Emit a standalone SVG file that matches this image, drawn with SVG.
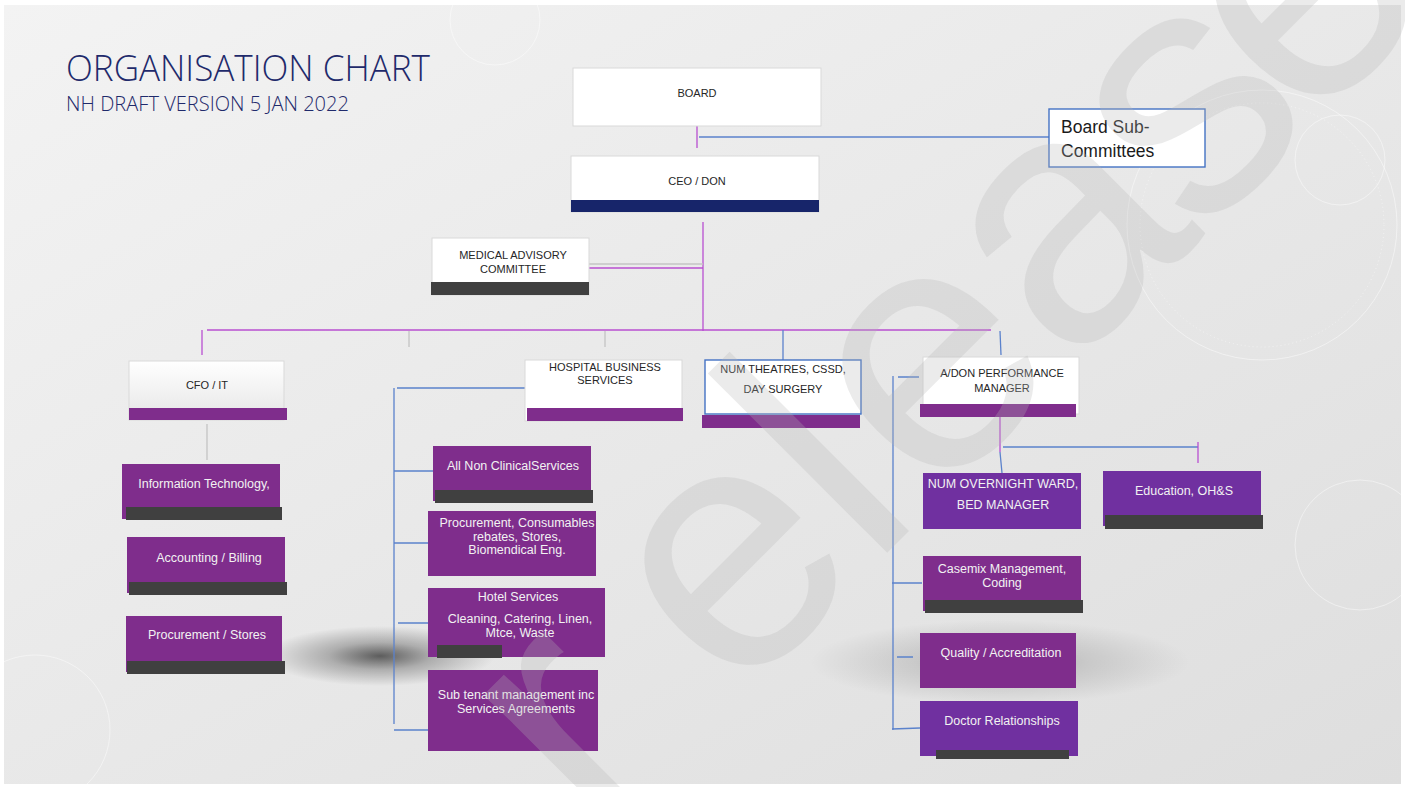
<svg xmlns="http://www.w3.org/2000/svg" width="1405" height="787" viewBox="0 0 1405 787">
<defs>
<linearGradient id="bg" x1="0" y1="0" x2="1" y2="1">
<stop offset="0" stop-color="#f3f3f3"/><stop offset="1" stop-color="#dedede"/>
</linearGradient>
<linearGradient id="cfo" x1="0" y1="0" x2="0" y2="1">
<stop offset="0" stop-color="#ffffff"/><stop offset="1" stop-color="#e6e6e6"/>
</linearGradient>
<radialGradient id="shadow">
<stop offset="0" stop-color="#000" stop-opacity="0.6"/><stop offset="0.45" stop-color="#000" stop-opacity="0.25"/><stop offset="1" stop-color="#000" stop-opacity="0"/>
</radialGradient>
<style>
.wbox{fill:#ffffff;stroke:#d9d9d9;stroke-width:1}
.bbox{fill:#ffffff;stroke:#4472c4;stroke-width:1.4}
.pbox{fill:#7f2d8c}
.vbox{fill:#7030a0}
.bar{fill:#404040}
.pbar{fill:#7f2d8c}
.t{font-family:"Liberation Sans",Arial,sans-serif;text-anchor:middle}
.dk{fill:#262626;font-size:11px}
.wt{fill:#f2f2f2;font-size:12.5px}
.cp{stroke:#b94fd1;stroke-width:1.3;fill:none}
.cb{stroke:#5b82cc;stroke-width:1.3;fill:none}
.cg{stroke:#c4c4c4;stroke-width:1.3;fill:none}
.deco{fill:none;stroke:#ffffff;stroke-opacity:0.45;stroke-width:1}
</style>
</defs>
<rect x="0" y="0" width="1405" height="787" fill="#ffffff"/>
<rect x="4" y="5" width="1397" height="779" fill="url(#bg)"/>
<g id="decoration">
<circle class="deco" cx="1262" cy="225" r="135"/>
<circle class="deco" cx="1262" cy="225" r="122" stroke-dasharray="1 3"/>
<circle class="deco" cx="1340" cy="160" r="45"/>
<circle class="deco" cx="1360" cy="545" r="65"/>
<circle class="deco" cx="495" cy="20" r="45"/>
<circle class="deco" cx="35" cy="730" r="75"/>
<ellipse cx="380" cy="656" rx="115" ry="30" fill="url(#shadow)"/>
<ellipse cx="1000" cy="662" rx="190" ry="42" fill="url(#shadow)" opacity="0.45"/>
</g>
<g id="title">
<text x="66" y="81" font-family="Open Sans, Lato, Liberation Sans, sans-serif" font-weight="300" font-size="36" fill="#1f2a6b" textLength="364" lengthAdjust="spacingAndGlyphs">ORGANISATION CHART</text>
<text x="66" y="111" font-family="Open Sans, Lato, Liberation Sans, sans-serif" font-weight="300" font-size="19.5" fill="#1f2a6b" textLength="283" lengthAdjust="spacingAndGlyphs">NH DRAFT VERSION 5 JAN 2022</text>
</g>
<g id="connectors">
<path class="cp" d="M697 126V148"/>
<path class="cb" d="M699 137H1049"/>
<path class="cp" d="M703 222V331"/>
<path class="cg" d="M589 264H703"/>
<path class="cp" d="M589 268H703"/>
<path class="cp" d="M207 330H991"/>
<path class="cp" d="M202 330V355"/>
<path class="cg" d="M409 331V347M605 331V347"/>
<path class="cb" d="M783 330V360"/>
<path class="cb" d="M1000 331L1001 355"/>
<path class="cg" d="M207 424V460"/>
<path class="cb" d="M397 388H525M394 388V724M394 471H465M394 543H428M398 623H428M394 730H428"/>
<path class="cb" d="M898 377H919M893 376V730M892 583H922M897 657H913M892 729L920 728"/>
<path class="cp" d="M1000 417V452"/>
<path class="cb" d="M1000 452L1002 473M1003 447H1198"/>
<path class="cp" d="M1198 442V463"/>
</g>
<g id="board"><rect class="wbox" x="573" y="68" width="248" height="58"/><text class="t dk" x="697" y="97" font-size="10.5">BOARD</text></g>
<g id="board-sub"><rect class="bbox" x="1049" y="109" width="156" height="58"/><text x="1061" y="133" font-family="Liberation Sans, Arial, sans-serif" font-size="17.5" fill="#1a1a1a">Board Sub-</text><text x="1061" y="157" font-family="Liberation Sans, Arial, sans-serif" font-size="17.5" fill="#1a1a1a">Committees</text></g>
<g id="ceo"><rect class="wbox" x="571" y="156" width="248" height="56"/><rect x="571" y="200" width="248" height="12" fill="#17256a"/><text class="t dk" x="697" y="185">CEO / DON</text></g>
<g id="medical"><rect class="wbox" x="432" y="238" width="157" height="57"/><rect class="bar" x="431" y="282" width="158" height="13"/><text class="t dk" x="513" y="259">MEDICAL ADVISORY</text><text class="t dk" x="513" y="273">COMMITTEE</text></g>
<g id="cfo-it"><rect x="129" y="361" width="155" height="59" fill="url(#cfo)" stroke="#d9d9d9"/><rect class="pbar" x="129" y="408" width="158" height="12"/><text class="t dk" x="207" y="389" font-size="12">CFO / IT</text></g>
<g id="hbs"><rect class="wbox" x="525" y="360" width="157" height="61"/><rect class="pbar" x="527" y="408" width="156" height="13"/><text class="t dk" x="605" y="371">HOSPITAL BUSINESS</text><text class="t dk" x="605" y="384">SERVICES</text></g>
<g id="num-theatres"><rect class="bbox" x="705" y="360" width="156" height="54"/><rect class="pbar" x="702" y="415" width="158" height="13"/><text class="t dk" x="783" y="373">NUM THEATRES, CSSD,</text><text class="t dk" x="783" y="393">DAY SURGERY</text></g>
<g id="adon"><rect class="wbox" x="923" y="357" width="156" height="57"/><rect class="pbar" x="920" y="404" width="156" height="13"/><text class="t dk" x="1002" y="377">A/DON PERFORMANCE</text><text class="t dk" x="1002" y="392">MANAGER</text></g>
<g id="it"><rect class="pbox" x="122" y="464" width="158" height="55"/><rect class="bar" x="126" y="507" width="156" height="13"/><text class="t wt" x="204" y="488">Information Technology,</text></g>
<g id="accounting"><rect class="pbox" x="127" y="537" width="158" height="56"/><rect class="bar" x="129" y="582" width="158" height="13"/><text class="t wt" x="209" y="562">Accounting / Billing</text></g>
<g id="proc-stores"><rect class="pbox" x="126" y="616" width="156" height="56"/><rect class="bar" x="127" y="661" width="158" height="13"/><text class="t wt" x="207" y="639">Procurement / Stores</text></g>
<g id="non-clinical"><rect class="pbox" x="433" y="446" width="158" height="55"/><rect class="bar" x="435" y="490" width="158" height="13"/><text class="t wt" x="513" y="470">All Non ClinicalServices</text></g>
<g id="procurement"><rect class="pbox" x="428" y="511" width="168" height="65"/><text class="t wt" x="517" y="527">Procurement, Consumables</text><text class="t wt" x="517" y="541">rebates, Stores,</text><text class="t wt" x="517" y="554">Biomendical Eng.</text></g>
<g id="hotel"><rect class="pbox" x="428" y="588" width="177" height="69"/><rect class="bar" x="437" y="645" width="65" height="13"/><text class="t wt" x="518" y="601">Hotel Services</text><text class="t wt" x="520" y="623">Cleaning, Catering, Linen,</text><text class="t wt" x="520" y="637">Mtce, Waste</text></g>
<g id="sub-tenant"><rect class="pbox" x="428" y="670" width="170" height="81"/><text class="t wt" x="516" y="699">Sub tenant management inc</text><text class="t wt" x="516" y="713">Services Agreements</text></g>
<g id="num-overnight"><rect class="vbox" x="923" y="473" width="158" height="56"/><text class="t wt" x="1003" y="488" font-size="11.3">NUM OVERNIGHT WARD,</text><text class="t wt" x="1003" y="509" font-size="11.3">BED MANAGER</text></g>
<g id="education"><rect class="vbox" x="1103" y="471" width="158" height="55"/><rect class="bar" x="1105" y="515" width="158" height="14"/><text class="t wt" x="1184" y="495">Education, OH&amp;S</text></g>
<g id="casemix"><rect class="pbox" x="923" y="556" width="158" height="55"/><rect class="bar" x="925" y="600" width="158" height="13"/><text class="t wt" x="1002" y="573">Casemix Management,</text><text class="t wt" x="1002" y="587">Coding</text></g>
<g id="quality"><rect class="pbox" x="920" y="633" width="156" height="55"/><text class="t wt" x="1001" y="657">Quality / Accreditation</text></g>
<g id="doctor"><rect class="vbox" x="920" y="701" width="158" height="55"/><rect class="bar" x="936" y="750" width="133" height="9"/><text class="t wt" x="1002" y="725">Doctor Relationships</text></g>
<g id="watermark">
<text transform="translate(640 800) rotate(-45)" x="-60 134 326 414 606 790 941" y="0" font-family="Liberation Sans, Arial, sans-serif" font-size="350" fill="#b5b5b5" fill-opacity="0.27">release</text>
</g>
</svg>
